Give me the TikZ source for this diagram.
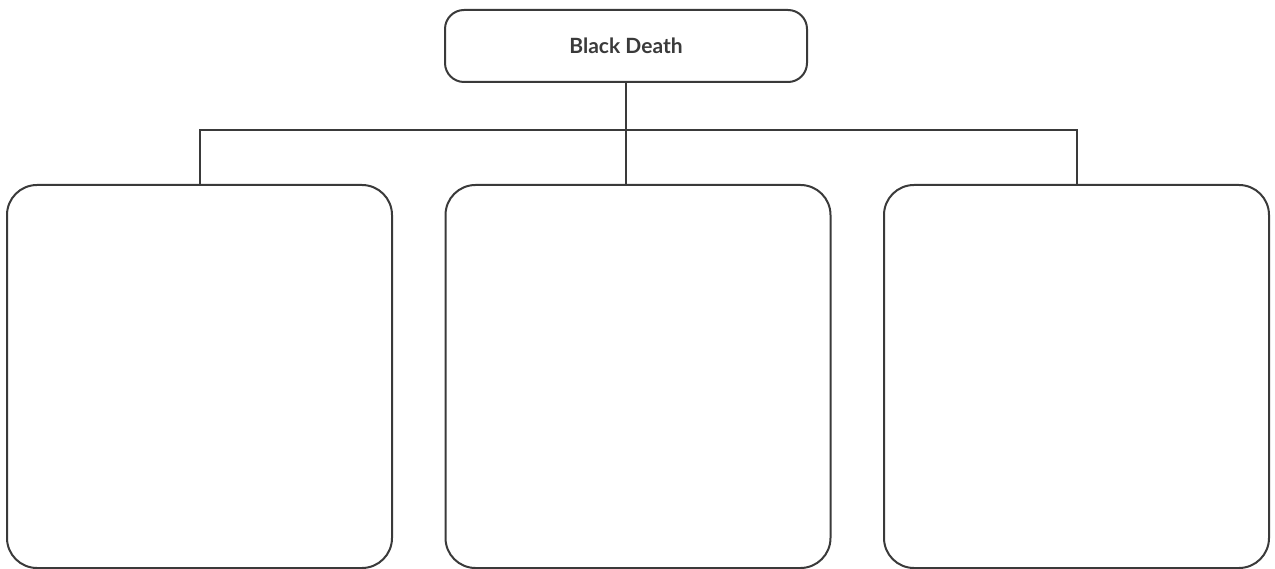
\documentclass[tikz,border=0pt]{standalone}
\usepackage{fontspec}
\setmainfont{Lato}
\usetikzlibrary{positioning}
\definecolor{inkgray}{HTML}{3A3A3A}

\begin{document}
\begin{tikzpicture}[x=1pt,y=-1pt]
\tikzstyle{topic}=[
  draw=inkgray, line width=2pt,
  rounded corners=19pt,
  minimum width=362pt, minimum height=72pt,
  text=inkgray, font=\bfseries\fontsize{21}{25}\selectfont ]
\tikzstyle{blank}=[
  draw=inkgray, line width=2pt,
  rounded corners=30pt,
  minimum width=385pt, minimum height=383pt ]
\tikzstyle{link}=[draw=inkgray, line width=2pt]
\useasboundingbox (0,0) rectangle (1275,569);
\node[topic] (death) at (626,46) {Black Death};
\node[blank] (left) at (199.5,376.5) {};
\node[blank] (mid) at (638,376.5) {};
\node[blank] (right) at (1076.5,376.5) {};
\coordinate (hub) at (626,130);
\draw[link] (death.south) -- (death.south |- mid.north);
\draw[link] (left.north) |- (hub) -| (right.north);
\end{tikzpicture}
\end{document}
